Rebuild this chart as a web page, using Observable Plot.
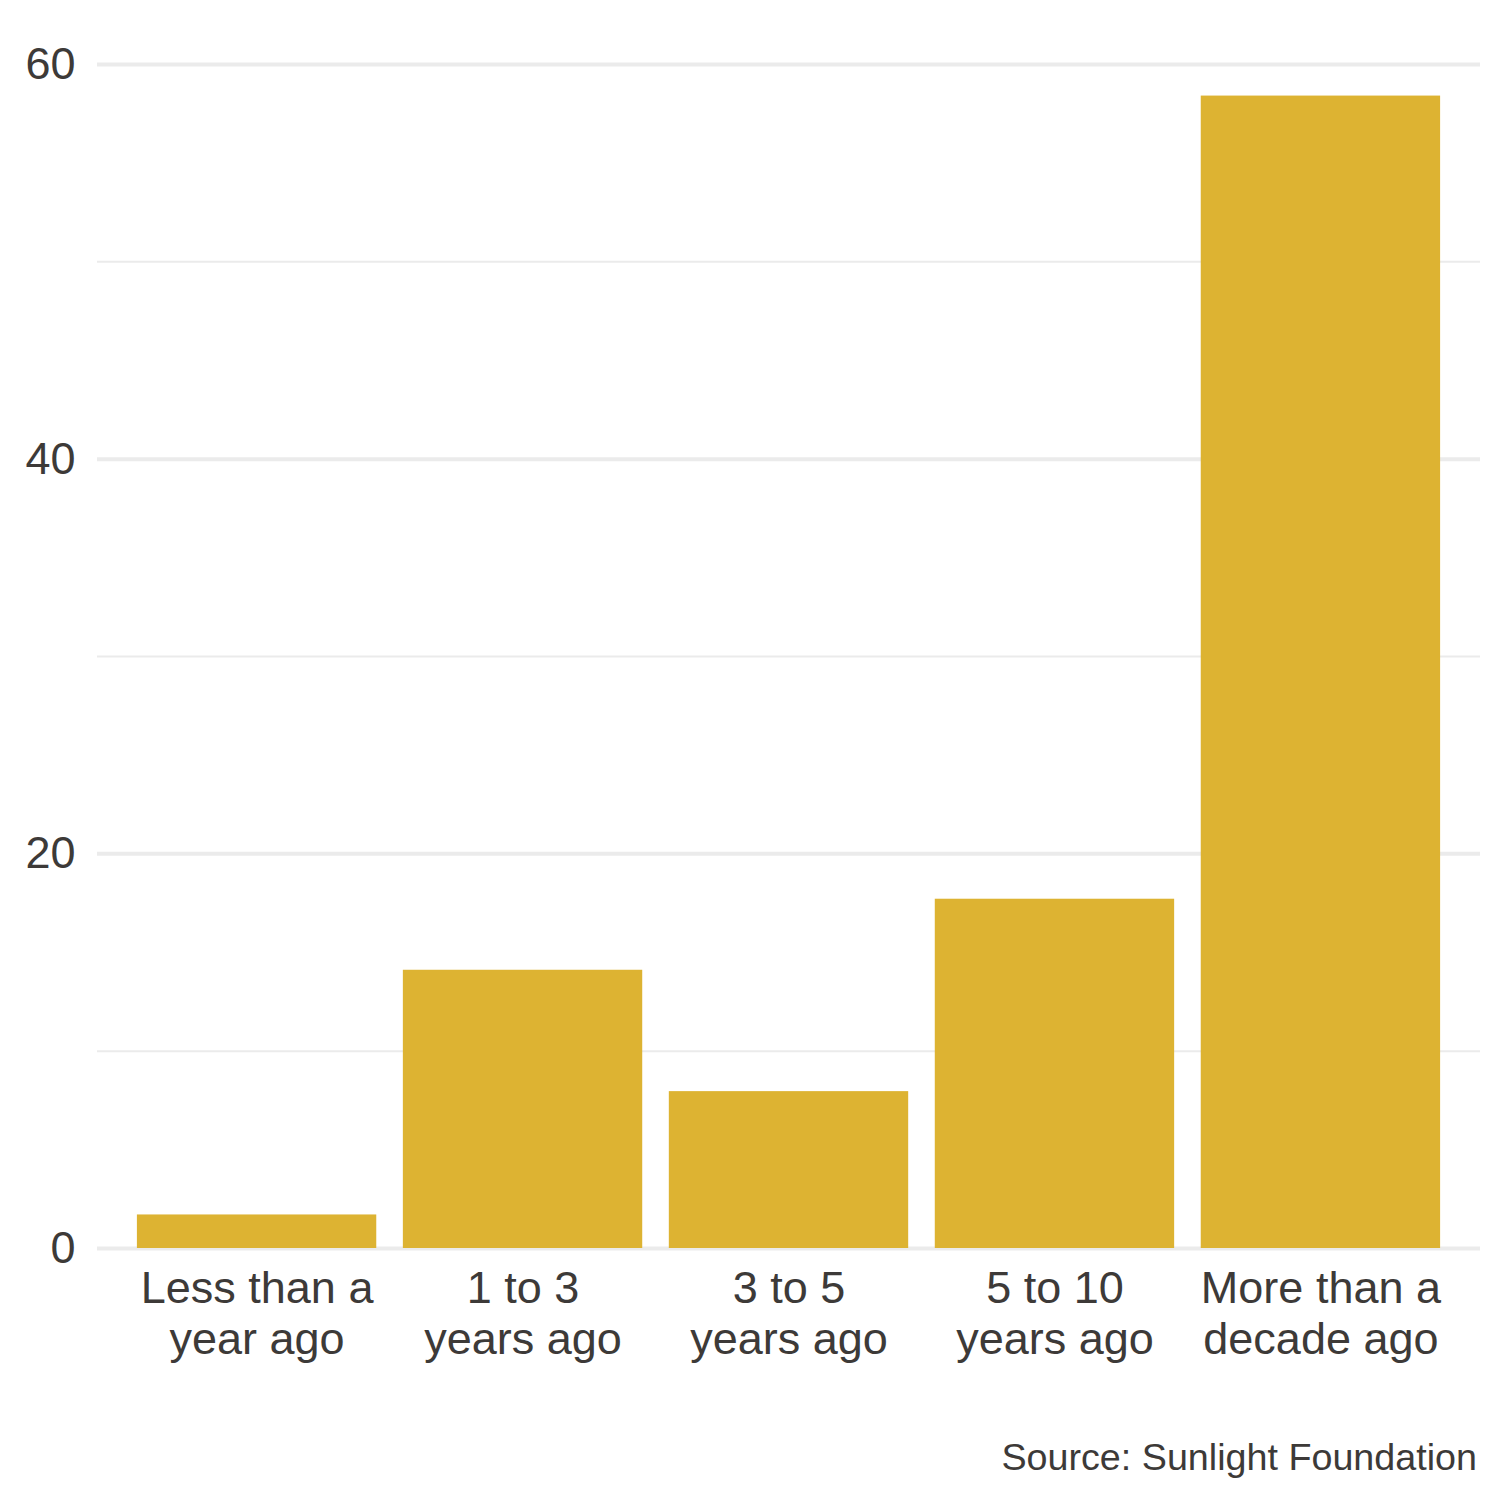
<!DOCTYPE html>
<html>
<head>
<meta charset="utf-8">
<script src="https://cdn.jsdelivr.net/npm/d3@7"></script>
<script src="https://cdn.jsdelivr.net/npm/@observablehq/plot@0.6"></script>
<style>
  html, body { margin: 0; padding: 0; background: #fff; }
  #wrap { position: relative; width: 1505px; height: 1505px; font-family: "Liberation Sans", Arial, Helvetica, sans-serif; }
  #caption { position: absolute; right: 28px; top: 1437px; font-size: 37.7px; line-height: 40px; color: #3d3a38; }
</style>
</head>
<body>
<div id="wrap"><div id="chart"></div><div id="caption">Source: Sunlight Foundation</div></div>
<script>
const categories = ["Less than a\nyear ago", "1 to 3\nyears ago", "3 to 5\nyears ago", "5 to 10\nyears ago", "More than a\ndecade ago"];
const values = [1.7, 14.1, 7.95, 17.7, 58.4];
const majorTicks = [0, 20, 40, 60];
const minorTicks = [10, 30, 50];

const data = categories.map((c, i) => ({category: c, value: values[i]}));
const textColor = "#3d3a38";

const chart = Plot.plot({
  width: 1505,
  height: 1400,
  marginLeft: 97,
  marginRight: 25,
  marginTop: 64,
  marginBottom: 152,
  style: {fontFamily: "'Liberation Sans', Arial, Helvetica, sans-serif", background: "#fff"},
  x: {domain: categories, paddingInner: 0.1, paddingOuter: 0.15, round: false, label: null},
  y: {domain: [0, 60], label: null},
  marks: [
    Plot.ruleY(minorTicks, {stroke: "#ebebeb", strokeWidth: 2}),
    Plot.ruleY(majorTicks, {stroke: "#ebebeb", strokeWidth: 4}),
    Plot.barY(data, {x: "category", y: "value", fill: "#ddb332"}),
    Plot.axisY({ticks: majorTicks, tickSize: 0, tickPadding: 22, fontSize: 45, fill: textColor, label: null}),
    Plot.axisX({tickSize: 0, tickPadding: 19, fontSize: 45, lineHeight: 1.12, fill: textColor, label: null})
  ]
});
document.getElementById("chart").appendChild(chart);
</script>
</body>
</html>
